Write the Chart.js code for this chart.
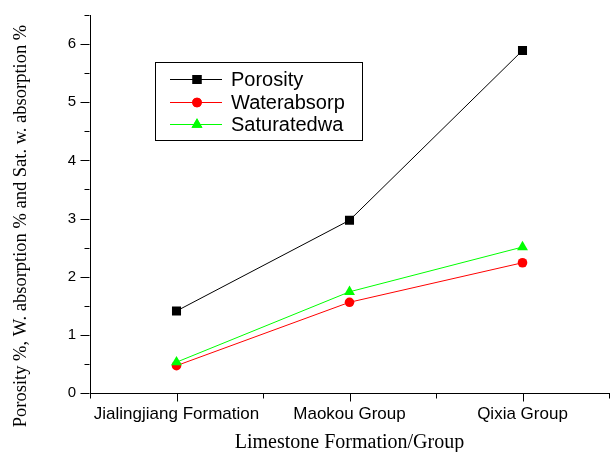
<!DOCTYPE html>
<html>
<head>
<meta charset="utf-8">
<script src="https://cdn.jsdelivr.net/npm/chart.js@4/dist/chart.umd.min.js"></script>
<style>
  html, body { margin: 0; padding: 0; background: #fff; }
  #wrap { width: 610px; height: 452px; }
</style>
</head>
<body>
<div id="wrap"><canvas id="c" width="610" height="452"></canvas></div>
<script>
// Rock property measurements per limestone unit (%)
const categories = ['Jialingjiang Formation', 'Maokou Group', 'Qixia Group'];
const porosity = [1.41, 2.97, 5.89];
const waterAbsorption = [0.47, 1.56, 2.24];
const saturatedAbsorption = [0.53, 1.74, 2.51];
const seriesNames = ['Porosity', 'Waterabsorp', 'Saturatedwa'];
const yTickValues = [0, 1, 2, 3, 4, 5, 6];
const yMax = 6.5;
const xTitle = 'Limestone Formation/Group';
const yTitle = 'Porosity %, W. absorption % and Sat. w. absorption %';

const SANS = '"Liberation Sans", Arial, sans-serif';
const SERIF = '"Liberation Serif", "Times New Roman", serif';

// Axis tick marks (major + minor), rotated y title and boxed legend
const decorations = {
  id: 'decorations',
  afterDraw(chart) {
    const ctx = chart.ctx;
    const x = chart.scales.x, y = chart.scales.y;
    const area = chart.chartArea;
    ctx.save();
    ctx.strokeStyle = '#000';
    ctx.lineWidth = 1;
    ctx.beginPath();
    const ax = Math.round(area.left) - 0.5;
    for (let v = 0; v <= yMax + 1e-9; v += 0.5) {
      const py = Math.round(y.getPixelForValue(v)) + 0.5;
      const len = Number.isInteger(v) ? 9 : 5;
      ctx.moveTo(ax - len, py);
      ctx.lineTo(ax, py);
    }
    const ay = Math.round(area.bottom) + 0.5;
    for (let i = -0.5; i <= categories.length - 0.5 + 1e-9; i += 0.5) {
      const px = Math.round(x.getPixelForValue(i)) + 0.5;
      const len = Number.isInteger(i) ? 8 : 5;
      ctx.moveTo(px, ay);
      ctx.lineTo(px, ay + len);
    }
    ctx.stroke();

    // y axis title
    ctx.fillStyle = '#000';
    ctx.font = '18.5px ' + SERIF;
    ctx.textAlign = 'center';
    ctx.textBaseline = 'middle';
    ctx.translate(21, 226);
    ctx.rotate(-Math.PI / 2);
    ctx.fillText(yTitle, 0, 0);
    ctx.restore();

    // legend
    ctx.save();
    const box = { l: 155, t: 62, r: 362, b: 140 };
    ctx.fillStyle = '#fff';
    ctx.fillRect(box.l, box.t, box.r - box.l, box.b - box.t);
    ctx.strokeStyle = '#000';
    ctx.lineWidth = 1;
    ctx.strokeRect(box.l + 0.5, box.t + 0.5, box.r - box.l, box.b - box.t);
    const rows = [79, 102, 124];
    chart.data.datasets.forEach((ds, i) => {
      const ry = rows[i] + 0.5;
      ctx.strokeStyle = ds.borderColor;
      ctx.lineWidth = ds.borderWidth;
      ctx.beginPath();
      ctx.moveTo(170, ry);
      ctx.lineTo(222, ry);
      ctx.stroke();
      ctx.fillStyle = ds.pointBackgroundColor;
      Chart.helpers.drawPoint(ctx, {
        pointStyle: ds.pointStyle, radius: ds.pointRadius, rotation: 0, borderWidth: 0
      }, 197, ry);
      ctx.fill();
      ctx.fillStyle = '#000';
      ctx.font = '20px ' + SANS;
      ctx.textAlign = 'left';
      ctx.textBaseline = 'middle';
      ctx.fillText(seriesNames[i], 231, rows[i] + 1);
    });
    ctx.restore();
  }
};

function series(label, data, color, style, radius, order) {
  return {
    label, data, order,
    borderColor: color,
    backgroundColor: color,
    borderWidth: 1,
    pointStyle: style,
    pointRadius: radius,
    pointHoverRadius: radius,
    pointBackgroundColor: color,
    pointBorderColor: color,
    pointBorderWidth: 0,
    tension: 0,
    fill: false
  };
}

new Chart(document.getElementById('c'), {
  type: 'line',
  data: {
    labels: categories,
    datasets: [
      series(seriesNames[0], porosity, '#000000', 'rect', 6.4, 0),
      series(seriesNames[1], waterAbsorption, '#ff0000', 'circle', 4.8, 2),
      series(seriesNames[2], saturatedAbsorption, '#00ff00', 'triangle', 6.3, 1)
    ]
  },
  options: {
    responsive: false,
    animation: false,
    devicePixelRatio: 1,
    layout: { autoPadding: false, padding: { top: 15, right: 1, left: 0, bottom: 0 } },
    plugins: {
      legend: { display: false },
      tooltip: { enabled: false }
    },
    scales: {
      x: {
        type: 'category',
        offset: true,
        grid: { display: false, tickLength: 8 },
        border: { display: true, color: '#000', width: 1 },
        ticks: {
          color: '#000', padding: 3, maxRotation: 0, autoSkip: false,
          font: { family: SANS, size: 17 }
        },
        title: {
          display: true, text: xTitle, color: '#000', padding: { top: 0, bottom: -3 },
          font: { family: SERIF, size: 20 }
        },
        afterFit(s) {
          s.height = 59;
          s.paddingLeft = 0;
          s.paddingRight = 0;
        }
      },
      y: {
        min: 0,
        max: yMax,
        grid: { display: false, tickLength: 8 },
        border: { display: true, color: '#000', width: 1 },
        ticks: {
          color: '#000', padding: 6,
          font: { family: SANS, size: 15 }
        },
        afterBuildTicks(s) { s.ticks = yTickValues.map(v => ({ value: v })); },
        afterFit(s) {
          s.width = 90;
          s.paddingTop = 0;
          s.paddingBottom = 0;
        }
      }
    }
  },
  plugins: [decorations]
});
</script>
</body>
</html>
